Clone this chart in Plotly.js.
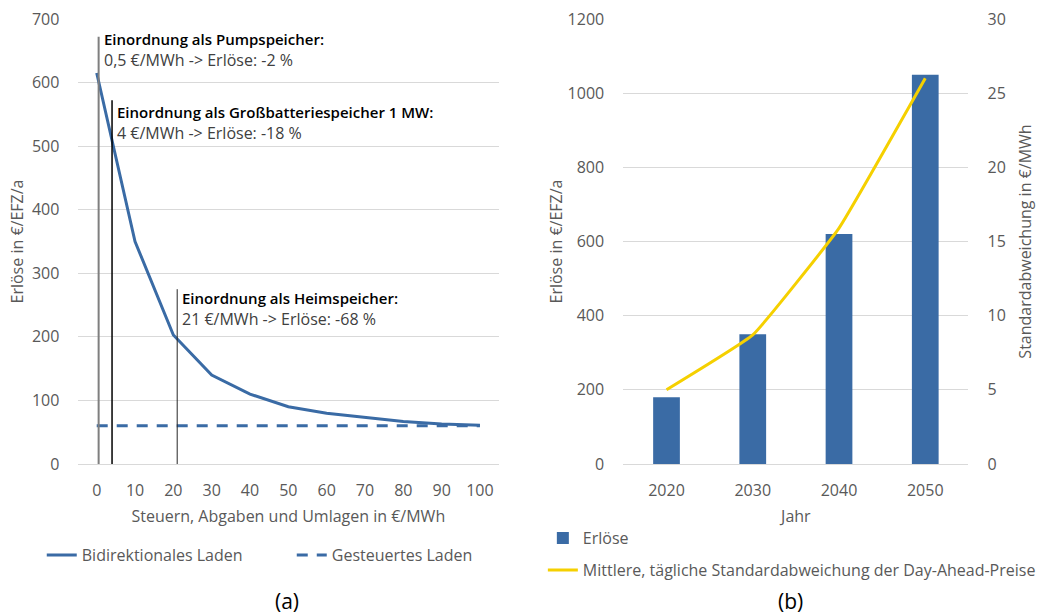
<!DOCTYPE html>
<html>
<head>
<meta charset="utf-8">
<script src="https://cdn.plot.ly/plotly-3.0.1.min.js"></script>
<style>html,body{margin:0;padding:0;background:#fff;overflow:hidden;}#chart{width:1041px;height:615px;display:block;}</style>
</head>
<body>
<div id="chart"></div>
<script>
// ---- Data (a) ----
const taxLevels = [0, 10, 20, 30, 40, 50, 60, 70, 80, 90, 100];
const bidirRevenue = [615, 350, 203, 140, 110, 90, 80, 73, 67, 63, 61];
const ctrlX = [0, 100];
const ctrlRevenue = [60, 60];
const markerX = [0.5, 4, 21];
const markerTop = [672, 572, 275];
const markerTitles = ["Einordnung als Pumpspeicher:", "Einordnung als Großbatteriespeicher 1 MW:", "Einordnung als Heimspeicher:"];
const markerTexts = ["0,5 €/MWh -> Erlöse: -2 %", "4 €/MWh -> Erlöse: -18 %", "21 €/MWh -> Erlöse: -68 %"];
const xTicksA = [0, 10, 20, 30, 40, 50, 60, 70, 80, 90, 100];

// ---- Data (b) ----
const years = ["2020", "2030", "2040", "2050"];
const revenue = [180, 350, 620, 1050];
const stdDev = [5.0, 8.7, 15.9, 26.0];

const BLUE = "#3A6BA5";
const YELLOW = "#F5D000";
const FONT = "Open Sans, Noto Sans, sans-serif";
const TICK = "#595959";
const FS = 16;

const markerColors = ["#7f7f7f", "#000000", "#262626"];
const markerWidths = [2, 1.5, 1];
const titleShift = [-2, -12, -9];

const traces = [
  {x: taxLevels, y: bidirRevenue, type: "scatter", mode: "lines", name: "Bidirektionales Laden",
   line: {color: BLUE, width: 3}, xaxis: "x", yaxis: "y", legend: "legend"},
  {x: ctrlX, y: ctrlRevenue, type: "scatter", mode: "lines", name: "Gesteuertes Laden",
   line: {color: BLUE, width: 3, dash: "11px,9px"}, xaxis: "x", yaxis: "y", legend: "legend"}
];
markerX.forEach((mx, i) => {
  traces.push({x: [mx, mx], y: [0, markerTop[i]], type: "scatter", mode: "lines", showlegend: false,
    hoverinfo: "skip", line: {color: markerColors[i], width: markerWidths[i]}, xaxis: "x", yaxis: "y"});
});
traces.push({x: years, y: revenue, type: "bar", name: "Erlöse", marker: {color: BLUE},
  xaxis: "x2", yaxis: "y2", legend: "legend2"});
traces.push({x: years, y: stdDev, type: "scatter", mode: "lines", name: "Mittlere, tägliche Standardabweichung der Day-Ahead-Preise",
  line: {color: YELLOW, width: 3, shape: "spline", smoothing: 0.3}, xaxis: "x2", yaxis: "y3", legend: "legend3"});

const annotations = [];
markerX.forEach((mx, i) => {
  annotations.push({x: mx, y: markerTop[i], xref: "x", yref: "y", xanchor: "left", yanchor: "middle",
    xshift: 3, yshift: titleShift[i], showarrow: false, text: markerTitles[i],
    font: {family: FONT, size: 15, color: "#000", weight: 600}});
  annotations.push({x: mx, y: markerTop[i], xref: "x", yref: "y", xanchor: "left", yanchor: "middle",
    xshift: 3, yshift: titleShift[i] - 21, showarrow: false, text: markerTexts[i],
    font: {family: FONT, size: FS, color: "#404040"}});
});
annotations.push({x: 289/1041, y: 1 - 601/615, xref: "paper", yref: "paper", xanchor: "center", yanchor: "middle", showarrow: false,
  text: "(a)", font: {family: FONT, size: 21, color: "#000"}});
annotations.push({x: 795/1041, y: 1 - 601/615, xref: "paper", yref: "paper", xanchor: "center", yanchor: "middle", showarrow: false,
  text: "(b)", font: {family: FONT, size: 21, color: "#000"}});

const gridC = "#D9D9D9";
const tf = {family: FONT, size: FS, color: TICK};
const noTick = {ticks: "outside", tickcolor: "rgba(0,0,0,0)", automargin: false};
const layout = {
  width: 1041, height: 615,
  margin: {l: 0, r: 0, t: 0, b: 0},
  paper_bgcolor: "#fff", plot_bgcolor: "#fff",
  font: {family: FONT, size: FS, color: TICK},
  showlegend: true,
  xaxis: Object.assign({domain: [78/1041, 502/1041], range: [-5, 105], tickvals: xTicksA, ticktext: xTicksA.map(String),
    showgrid: false, zeroline: false, showline: false, ticklen: 12, tickfont: tf,
    title: {text: "Steuern, Abgaben und Umlagen in €/MWh", font: tf, standoff: 10}}, noTick),
  yaxis: Object.assign({domain: [1 - 464/615, 1 - 19/615], range: [0, 700], dtick: 100, showgrid: true, gridcolor: gridC,
    zeroline: true, zerolinecolor: gridC, zerolinewidth: 1, showline: false, ticklen: 14, tickfont: tf,
    title: {text: "Erlöse in €/EFZ/a", font: tf, standoff: 4}}, noTick),
  xaxis2: Object.assign({domain: [627/1041, 974/1041], type: "category", anchor: "y2", showgrid: false, zeroline: false,
    showline: false, ticklen: 12, tickfont: tf,
    title: {text: "Jahr", font: tf, standoff: 10}}, noTick),
  yaxis2: Object.assign({domain: [1 - 464/615, 1 - 19/615], anchor: "x2", range: [0, 1200], dtick: 200, showgrid: true,
    gridcolor: gridC, zeroline: true, zerolinecolor: gridC, showline: false, ticklen: 15, tickfont: tf,
    title: {text: "Erlöse in €/EFZ/a", font: tf, standoff: 0}}, noTick),
  yaxis3: Object.assign({overlaying: "y2", side: "right", anchor: "x2", range: [0, 30], dtick: 5, showgrid: false,
    zeroline: false, showline: false, ticklen: 15, tickfont: tf,
    title: {text: "Standardabweichung in €/MWh", font: tf, standoff: 14}}, noTick),
  bargap: 0.69,
  legend: {orientation: "h", x: 42/1041, y: 1 - 555/615, xanchor: "left", yanchor: "middle",
    font: tf, entrywidth: 205, entrywidthmode: "pixels", bgcolor: "rgba(0,0,0,0)"},
  legend2: {orientation: "v", x: 546/1041, y: 1 - 538/615, xanchor: "left", yanchor: "middle",
    font: tf, bgcolor: "rgba(0,0,0,0)"},
  legend3: {orientation: "v", x: 546/1041, y: 1 - 570/615, xanchor: "left", yanchor: "middle",
    font: tf, bgcolor: "rgba(0,0,0,0)"},
  annotations: annotations
};

Plotly.newPlot("chart", traces, layout, {displayModeBar: false, staticPlot: true});
</script>
</body>
</html>
